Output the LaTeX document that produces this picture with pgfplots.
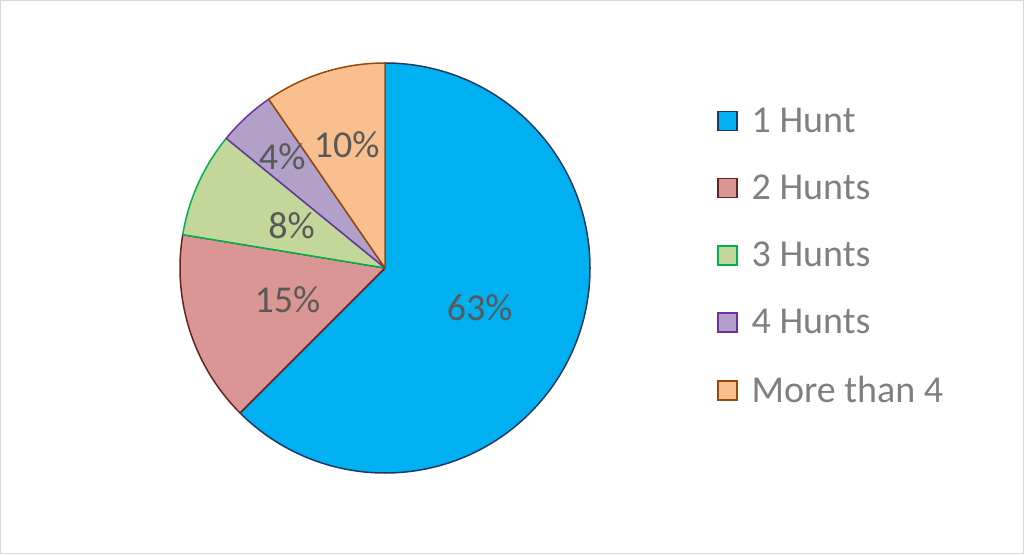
\documentclass[border=0pt]{standalone}
\usepackage{pgfplots}
\usepackage{pgfplotstable}
\pgfplotsset{compat=1.18}
\usepackage{fontspec}
\setmainfont{Carlito}

\definecolor{pfA}{HTML}{00B0F0}\definecolor{pdA}{HTML}{1F3864}
\definecolor{pfB}{HTML}{DA9694}\definecolor{pdB}{HTML}{632523}
\definecolor{pfC}{HTML}{C4D79B}\definecolor{pdC}{HTML}{00B050}
\definecolor{pfD}{HTML}{B1A0C7}\definecolor{pdD}{HTML}{7030A0}
\definecolor{pfE}{HTML}{FABF8F}\definecolor{pdE}{HTML}{984807}
\definecolor{labgray}{HTML}{595959}
\definecolor{leggray}{HTML}{7F7F7F}
\definecolor{framegray}{HTML}{D9D9D9}

% share (%), label, relative label radius
\pgfplotstableread{
id value label lr
A 62.5 63 0.50
B 15.1 15 0.50
C 8.3 8 0.50
D 4.5 4 0.74
E 9.6 10 0.63
}\piedata

\def\cx{385}\def\cy{286}\def\R{205}
\def\cum{0}
\pgfplotsforeachungrouped \i in {0,...,4}{%
  \pgfplotstablegetelem{\i}{id}\of\piedata\let\id\pgfplotsretval
  \pgfplotstablegetelem{\i}{value}\of\piedata\let\val\pgfplotsretval
  \pgfplotstablegetelem{\i}{label}\of\piedata\let\lab\pgfplotsretval
  \pgfplotstablegetelem{\i}{lr}\of\piedata\let\lr\pgfplotsretval
  \pgfmathsetmacro\s{90-3.6*\cum}%
  \pgfmathsetmacro\cum{\cum+\val}%
  \pgfmathsetmacro\e{90-3.6*\cum}%
  \pgfmathsetmacro\m{(\s+\e)/2}%
  \pgfmathsetmacro\lx{\cx+\R*\lr*cos(\m)}%
  \pgfmathsetmacro\ly{\cy+\R*\lr*sin(\m)}%
  \expandafter\xdef\csname ps\id\endcsname{\s}%
  \expandafter\xdef\csname pe\id\endcsname{\e}%
  \expandafter\xdef\csname plx\id\endcsname{\lx}%
  \expandafter\xdef\csname ply\id\endcsname{\ly}%
  \expandafter\xdef\csname plab\id\endcsname{\lab}%
}

\begin{document}
\begin{tikzpicture}
\begin{axis}[
  scale only axis, width=1024pt, height=554pt,
  xmin=0, xmax=1024, ymin=0, ymax=554,
  hide axis, clip=false,
  legend image code/.code={\draw[#1] (0pt,-9.5pt) rectangle (19pt,9.5pt);},
  legend style={draw=none, fill=none, at={(axis cs:714,450)}, anchor=north west,
    font=\fontsize{38}{46}\selectfont, text=leggray, row sep=37pt,
    /tikz/every odd column/.append style={column sep=12pt},
    legend cell align=left},
]
\draw[framegray, line width=1pt] (axis cs:0.5,0.5) rectangle (axis cs:1023.5,553.5);
\pgfplotsinvokeforeach{A,B,C,D,E}{
  \filldraw[fill=pf#1, draw=pd#1, line width=1.5pt, line join=round]
    (axis cs:\cx,\cy) -- ++(\csname ps#1\endcsname:\R pt)
    arc[start angle=\csname ps#1\endcsname, end angle=\csname pe#1\endcsname, radius=\R pt] -- cycle;
}
\pgfplotsinvokeforeach{A,B,C,D,E}{
  \node[text=labgray, font=\fontsize{38}{46}\selectfont]
    at (axis cs:\csname plx#1\endcsname,\csname ply#1\endcsname) {\csname plab#1\endcsname\%};
}
\addlegendimage{fill=pfA, draw=pdA, line width=1.5pt}\addlegendentry{1 Hunt}
\addlegendimage{fill=pfB, draw=pdB, line width=1.5pt}\addlegendentry{2 Hunts}
\addlegendimage{fill=pfC, draw=pdC, line width=1.5pt}\addlegendentry{3 Hunts}
\addlegendimage{fill=pfD, draw=pdD, line width=1.5pt}\addlegendentry{4 Hunts}
\addlegendimage{fill=pfE, draw=pdE, line width=1.5pt}\addlegendentry{More than 4}
\end{axis}
\end{tikzpicture}
\end{document}
